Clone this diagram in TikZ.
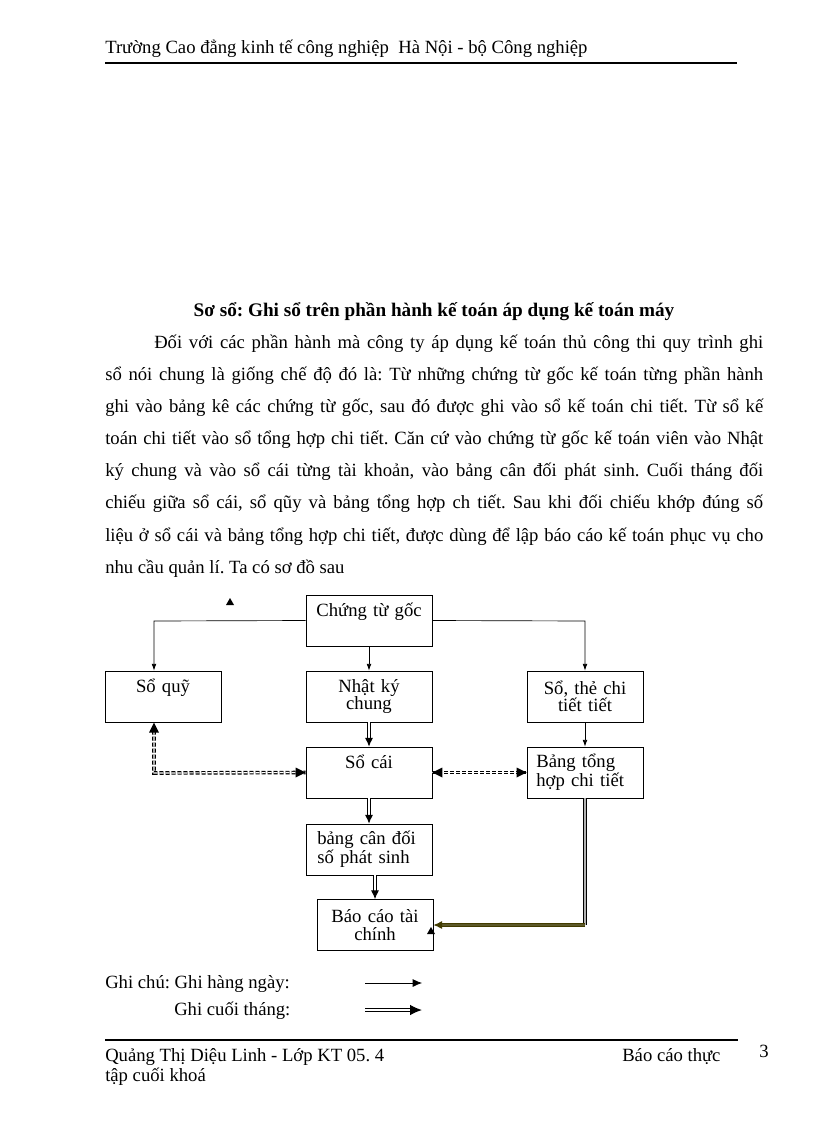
\documentclass[tikz,border=0pt]{standalone}
\usepackage{fontspec}
\setmainfont{Liberation Serif}
\usetikzlibrary{arrows.meta}
\frenchspacing
\definecolor{olivedark}{RGB}{66,60,0}
\tikzset{
  dong/.style={anchor=base west, inner sep=0pt},
  hop/.style={draw, line width=0.6pt, minimum height=38.25pt, inner ysep=0pt,
    inner xsep=0pt, align=center, font=\fontsize{14}{13}\selectfont},
  rong/.style={text width=94.5pt},
  hep/.style={text width=87pt},
  trai/.style={align=left, inner xsep=7pt},
  dautren/.style={text height=10pt, text depth=15.5pt},
  daily/.style={line width=0.5pt, -{Latex[length=5pt,width=3.5pt]}},
  monthly/.style={double, double distance=1.1pt, line width=0.7pt,
    -{Latex[length=6.5pt,width=6pt]}},
  doichieu/.style={double, double distance=0.9pt, line width=0.9pt,
    dash pattern=on 3pt off 1.5pt}
}
\begin{document}
\begin{tikzpicture}[x=0.75pt,y=-0.75pt,font=\fontsize{14}{16}\selectfont]
\useasboundingbox[fill=white] (0,0) rectangle (816,1123);

% Drawing header
\node[dong] (truong) at (105,54) {Trường Cao đẳng kinh tế công nghiệp\ \ Hà Nội - bộ Công nghiệp};%
\draw[line width=1.8pt] (105,63) -- (737,63);%

% Drawing title
\node[anchor=base, inner sep=0pt, font=\fontsize{14.4}{16}\selectfont\bfseries] (tieude) at (434,316)
  {Sơ sổ: Ghi sổ trên phần hành kế toán áp dụng kế toán máy};%

% Drawing paragraph, line by line
\node[dong] (l1) at (154,348) {\makebox[456.75pt][s]{Đối với các phần hành mà công ty áp dụng kế toán thủ công thi quy trình ghi}};%
\node[dong] (l2) at (105,380) {\makebox[493.5pt][s]{sổ nói chung là giống chế độ đó là: Từ những chứng từ gốc kế toán từng phần hành}};%
\node[dong] (l3) at (105,412) {\makebox[493.5pt][s]{ghi vào bảng kê các chứng từ gốc, sau đó được ghi vào sổ kế toán chi tiết. Từ sổ kế}};%
\node[dong] (l4) at (105,444) {\makebox[493.5pt][s]{toán chi tiết vào sổ tổng hợp chi tiết. Căn cứ vào chứng từ gốc kế toán viên vào Nhật}};%
\node[dong] (l5) at (105,476) {\makebox[493.5pt][s]{ký chung và vào sổ cái từng tài khoản, vào bảng cân đối phát sinh. Cuối tháng đối}};%
\node[dong] (l6) at (105,508) {\makebox[493.5pt][s]{chiếu giữa sổ cái, sổ qũy và bảng tổng hợp ch tiết. Sau khi đối chiếu khớp đúng số}};%
\node[dong] (l7) at (105,541) {\makebox[493.5pt][s]{liệu ở sổ cái và bảng tổng hợp chi tiết, được dùng để lập báo cáo kế toán phục vụ cho}};%
\node[dong] (l8) at (105,573) {nhu cầu quản lí. Ta có sơ đồ sau};%

% Drawing boxes
\node[hop, rong, dautren] (ctg) at (369,620.5) {Chứng từ gốc};%
\node[hop, hep, dautren] (soquy) at (163,696.5) {Sổ quỹ};%
\node[hop, rong] (nkc) at (369,696.5) {Nhật ký\\chung};%
\node[hop, hep] (sothe) at (585,696.5) {Sổ, thẻ chi\\tiết tiết};%
\node[hop, rong, dautren] (socai) at (369,772.5) {Sổ cái};%
\node[hop, trai, text width=73pt] (bangth) at (585,772.5) {Bảng tổng\\hợp chi tiết};%
\node[hop, trai, inner xsep=8.5pt, text width=77.5pt] (cdps) at (369,849.5) {bảng cân đối\\số phát sinh};%
\node[hop, hep] (bctc) at (375,925) {Báo cáo tài\\chính};%

% Drawing daily arrows
\coordinate (goctrai) at (154,621);%
\coordinate (gocphai) at (585,621);%
\coordinate (quyday) at (154,722.5);%
\draw[daily] (ctg.west) -- (goctrai) -- (goctrai |- soquy.north);%
\draw[daily] (ctg.south) -- (nkc.north);%
\draw[daily] (ctg.east) -- (gocphai) -- (sothe.north);%
\draw[daily] (sothe.south) -- (bangth.north);%

% Drawing monthly arrows
\draw[monthly] (nkc.south) -- (socai.north);%
\draw[monthly] (socai.south) -- (cdps.north);%
\draw[monthly] (bctc.north |- cdps.south) -- (bctc.north);%
\coordinate (gocduoi) at (bangth.south |- bctc.east);%
\draw[double, double distance=1.1pt, line width=0.7pt, double=gray!60] (bangth.south) -- (gocduoi);%
\draw[monthly, draw=olivedark, double=olive!55!black] (gocduoi) -- (bctc.east);%

% Drawing checking arrows
\coordinate (gocquy) at (154,773);%
\draw[doichieu] (quyday) ++(0,8) -- (gocquy) -- (socai.west);%
\fill (quyday) -- ++(-5,10) -- ++(10,0) -- cycle;%
\fill (socai.west) -- ++(-10,-5) -- ++(0,10) -- cycle;%
\draw[doichieu] (socai.east) -- (bangth.west);%
\fill (socai.east) -- ++(10,-5) -- ++(0,10) -- cycle;%
\fill (bangth.west) -- ++(-10,-5) -- ++(0,10) -- cycle;%

% Drawing stray marks
\fill (230,598) -- (226,605) -- (234,605) -- cycle;%
\fill (431,927) -- (427,934) -- (435,934) -- cycle;%

% Drawing legend
\node[dong] (chuthich) at (105,988) {Ghi chú: Ghi hàng ngày:};%
\node[dong] (cuoithang) at (174,1015) {Ghi cuối tháng:};%
\coordinate (n1) at (365,983);%
\coordinate (n2) at (422,983);%
\coordinate (m1) at (365,1010);%
\coordinate (m2) at (422,1010);%
\draw[line width=0.6pt, -{Latex[length=7pt,width=6pt]}] (n1) -- (n2);%
\draw[monthly, line width=1pt, double distance=0.8pt, -{Latex[length=9pt,width=8pt]}] (m1) -- (m2);%

% Drawing footer
\draw[line width=1.8pt] (105,1040) -- (738,1040);%
\node[dong] (tacgia) at (105,1061) {Quảng Thị Diệu Linh - Lớp KT 05. 4};%
\node[dong] (baocao) at (622,1061) {Báo cáo thực};%
\node[dong] (trang) at (759,1057) {3};%
\node[dong] (khoa) at (105,1081) {tập cuối khoá};%
\end{tikzpicture}
\end{document}
